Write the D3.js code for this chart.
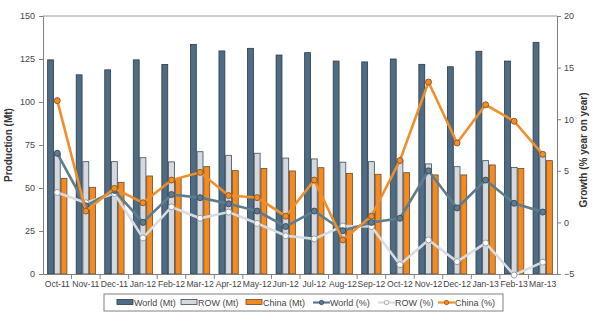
<!DOCTYPE html>
<html><head><meta charset="utf-8">
<script src="https://cdn.jsdelivr.net/npm/d3@7"></script>
<style>body{margin:0;background:#fff}svg{display:block;font-family:"Liberation Sans",Arial,sans-serif}</style>
</head><body>
<script>
const months = ["Oct-11","Nov-11","Dec-11","Jan-12","Feb-12","Mar-12","Apr-12","May-12","Jun-12","Jul-12","Aug-12","Sep-12","Oct-12","Nov-12","Dec-12","Jan-13","Feb-13","Mar-13"];
const worldMt = [124.5,115.8,118.7,124.5,121.8,133.5,129.7,131.2,127.3,128.7,123.8,123.3,125,121.9,120.5,129.5,123.8,134.7];
const rowMt   = [69.5,65.3,65.3,67.6,65.2,71.1,69,70.2,67.4,66.9,65,65.3,66.3,64,62.4,65.9,62,68.6];
const chinaMt = [55.6,50.4,53.3,57,55.6,62.4,60.1,61.4,59.9,61.8,58.5,58,58.9,57.6,57.6,63.4,61.4,65.9];
const worldPct = [6.7,1.6,3.1,0.0,2.7,2.4,1.8,1.1,-0.4,1.1,-0.8,0.0,0.4,5.0,1.4,4.1,1.85,1.0];
const rowPct   = [2.9,1.9,2.8,-1.5,1.5,0.4,1.0,-0.1,-1.3,-1.6,-0.35,-0.4,-4.1,-1.7,-3.8,-2.0,-5.1,-3.85];
const chinaPct = [11.8,1.1,3.3,1.9,4.1,4.85,2.6,2.4,0.6,4.1,-1.7,0.6,6.0,13.6,7.7,11.4,9.8,6.6];
const leftTicks = [0,25,50,75,100,125,150];
const rightTicks = [-5,0,5,10,15,20];

const W=595,H=335;
const m={l:43,r:557,t:16,b:274};
const svg=d3.select("body").append("svg").attr("width",W).attr("height",H);

const x=d3.scaleBand().domain(months).range([m.l,m.r]).paddingInner(0).paddingOuter(0);
const yL=d3.scaleLinear().domain([0,150]).range([m.b,m.t]);
const yR=d3.scaleLinear().domain([-5,20]).range([m.b,m.t]);
const bw=x.bandwidth();
const barW=6.7, g0=(bw-3*barW)/2;

svg.append("line").attr("x1",m.l).attr("x2",m.r).attr("y1",m.t).attr("y2",m.t).attr("stroke","#9a9a9a").attr("stroke-width",1);

const series=[
 {vals:worldMt,fill:"#4e6d85",stroke:"#2a3a48"},
 {vals:rowMt,fill:"#d3d9de",stroke:"#3e4a55"},
 {vals:chinaMt,fill:"#f58a1f",stroke:"#6a4a2a"}
];
series.forEach((s,i)=>{
  svg.append("g").selectAll("rect").data(s.vals).join("rect")
   .attr("x",(d,j)=>x(months[j])+g0+i*barW+0.4)
   .attr("y",d=>yL(d))
   .attr("width",barW-0.8)
   .attr("height",d=>yL(0)-yL(d))
   .attr("fill",s.fill).attr("stroke",s.stroke).attr("stroke-width",0.8);
});

const axL=svg.append("g").attr("transform",`translate(${m.l},0)`).call(d3.axisLeft(yL).tickValues(leftTicks).tickSize(4).tickPadding(4));
const axR=svg.append("g").attr("transform",`translate(${m.r},0)`).call(d3.axisRight(yR).tickValues(rightTicks).tickSize(4).tickPadding(3));
const axB=svg.append("g").attr("transform",`translate(0,${m.b})`).call(d3.axisBottom(x).tickSize(0).tickPadding(7));
svg.append("g").selectAll("line").data(months.slice(1)).join("line")
  .attr("x1",d=>x(d)).attr("x2",d=>x(d)).attr("y1",m.b).attr("y2",m.b+5).attr("stroke","#808080");
[axL,axR,axB].forEach(a=>{
  a.selectAll("path").attr("stroke","#808080");
  a.selectAll("line").attr("stroke","#808080");
  a.selectAll("text").attr("fill","#444").style("font-size","9px");
});
axB.selectAll("text").style("font-size","8.6px");

const lineSeries=[
 {vals:rowPct,color:"#d6dce1",mfill:"#ffffff",mstroke:"#8a949c"},
 {vals:worldPct,color:"#5d7c8e",mfill:"#5d7c8e",mstroke:"#34495a"},
 {vals:chinaPct,color:"#f08e2a",mfill:"#f08e2a",mstroke:"#8a5220"}
];
lineSeries.forEach(s=>{
  const line=d3.line().x((d,j)=>x(months[j])+bw/2).y(d=>yR(d));
  svg.append("path").datum(s.vals).attr("d",line).attr("fill","none").attr("stroke",s.color).attr("stroke-width",2.6);
  svg.append("g").selectAll("circle").data(s.vals).join("circle")
   .attr("cx",(d,j)=>x(months[j])+bw/2).attr("cy",d=>yR(d)).attr("r",3)
   .attr("fill",s.mfill).attr("stroke",s.mstroke).attr("stroke-width",0.9);
});

svg.append("text").attr("transform","translate(12,145) rotate(-90)").attr("text-anchor","middle")
  .style("font-size","10px").style("font-weight","bold").attr("fill","#333").text("Production (Mt)");
svg.append("text").attr("transform","translate(587,150) rotate(-90)").attr("text-anchor","middle")
  .style("font-size","10px").style("font-weight","bold").attr("fill","#333").text("Growth (% year on year)");

const lg=svg.append("g");
lg.append("rect").attr("x",104).attr("y",294).attr("width",399).attr("height",17).attr("fill","#fff").attr("stroke","#808080").attr("stroke-width",1);
const legItems=[
 {t:"World (Mt)",x:117,type:"bar",fill:"#4e6d85",stroke:"#2a3a48"},
 {t:"ROW (Mt)",x:181,type:"bar",fill:"#d3d9de",stroke:"#3e4a55"},
 {t:"China (Mt)",x:246,type:"bar",fill:"#f58a1f",stroke:"#6a4a2a"},
 {t:"World (%)",x:313,type:"line",color:"#5d7c8e",mfill:"#5d7c8e",mstroke:"#34495a"},
 {t:"ROW (%)",x:378,type:"line",color:"#d6dce1",mfill:"#fff",mstroke:"#8a949c"},
 {t:"China (%)",x:438,type:"line",color:"#f08e2a",mfill:"#f08e2a",mstroke:"#8a5220"}
];
legItems.forEach(it=>{
  const cy=302.5;
  if(it.type==="bar"){
    lg.append("rect").attr("x",it.x).attr("y",cy-3).attr("width",16).attr("height",5).attr("fill",it.fill).attr("stroke",it.stroke).attr("stroke-width",0.8);
  } else {
    lg.append("line").attr("x1",it.x).attr("x2",it.x+17).attr("y1",cy).attr("y2",cy).attr("stroke",it.color).attr("stroke-width",2.2);
    lg.append("circle").attr("cx",it.x+8.5).attr("cy",cy).attr("r",2.2).attr("fill",it.mfill).attr("stroke",it.mstroke).attr("stroke-width",0.8);
  }
  lg.append("text").attr("x",it.x+17).attr("y",cy+3.3).style("font-size","9px").attr("fill","#444").text(it.t);
});
</script>
</body></html>
